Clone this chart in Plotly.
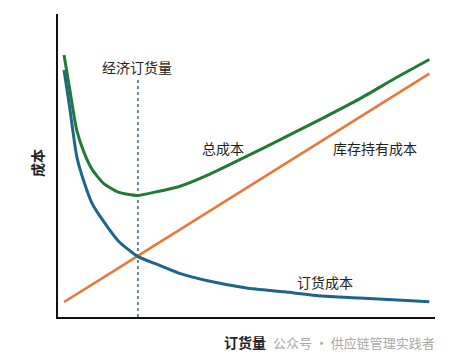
import plotly.graph_objects as go

# Order quantity (arbitrary units, 0-100 axis)
quantity = [1.6, 3, 5, 7, 9, 12, 16, 21, 26, 32, 40, 50, 60, 70, 80, 90, 98.5]
# Ordering cost (decreasing curve)
ordering_cost = [81.5, 70.0, 52.8, 44.2, 37.6, 31.7, 25.1, 20.1, 17.5, 14.5, 11.9, 9.6, 8.3, 6.9, 6.3, 5.6, 5.0]
# Holding cost (straight line)
holding_cost = [4.95, 6.0, 7.6, 9.2, 10.7, 13.0, 16.1, 20.0, 23.9, 28.6, 34.8, 42.6, 50.4, 58.2, 65.9, 73.7, 80.3]
# Total cost
total_cost = [86.5, 76.0, 61.5, 54.0, 48.8, 44.2, 41.2, 40.1, 41.3, 43.0, 47.0, 53.0, 59.2, 65.5, 72.0, 79.2, 85.0]

eoq_x = 21.2
eoq_top = 78.9

GREEN = "#217a35"
BLUE = "#1d6689"
ORANGE = "#e67a3c"
FONT = "Noto Sans CJK SC"

fig = go.Figure()
fig.add_trace(go.Scatter(x=[eoq_x, eoq_x], y=[0, eoq_top], mode="lines",
                         line=dict(color="#2f6f88", width=1.5, dash="dot"),
                         hoverinfo="skip", showlegend=False))
fig.add_trace(go.Scatter(x=quantity, y=holding_cost, mode="lines",
                         line=dict(color=ORANGE, width=2.6), showlegend=False))
fig.add_trace(go.Scatter(x=quantity, y=ordering_cost, mode="lines",
                         line=dict(color=BLUE, width=3, shape="spline", smoothing=0.6),
                         showlegend=False))
fig.add_trace(go.Scatter(x=quantity, y=total_cost, mode="lines",
                         line=dict(color=GREEN, width=3, shape="spline", smoothing=0.6),
                         showlegend=False))

def label(text, x, y, size=14, color="#222", bold=False, ref="x", **kw):
    if bold:
        text = "<b>" + text + "</b>"
    xr, yr = ("x", "y") if ref == "x" else ("paper", "paper")
    fig.add_annotation(text=text, x=x, y=y, xref=xr, yref=yr, showarrow=False,
                       xanchor="center", yanchor="middle",
                       font=dict(family=FONT, size=size, color=color), **kw)

label("经济订货量", 21.0, 82.5)
label("总成本", 43.8, 55.8)
label("库存持有成本", 84.1, 55.8)
label("订货成本", 70.8, 11.6)
label("订货量", 0.496, -0.083, size=14, bold=True, ref="paper")
label("公众号 · 供应链管理实践者", 0.785, -0.083, size=13, color="#a8a8a8", ref="paper")
label("成本", -0.056, 0.508, size=14, bold=True, ref="paper", textangle=-90)

fig.update_xaxes(range=[0, 100], showgrid=False, zeroline=False, showticklabels=False,
                 ticks="", showline=True, linecolor="#111", linewidth=1.6)
fig.update_yaxes(range=[0, 100], showgrid=False, zeroline=False, showticklabels=False,
                 ticks="", showline=True, linecolor="#111", linewidth=1.6)
fig.update_layout(width=441, height=352, autosize=False,
                  margin=dict(l=50, r=14, t=6, b=43),
                  plot_bgcolor="white", paper_bgcolor="white",
                  font=dict(family=FONT))

fig.write_html("out.html")
